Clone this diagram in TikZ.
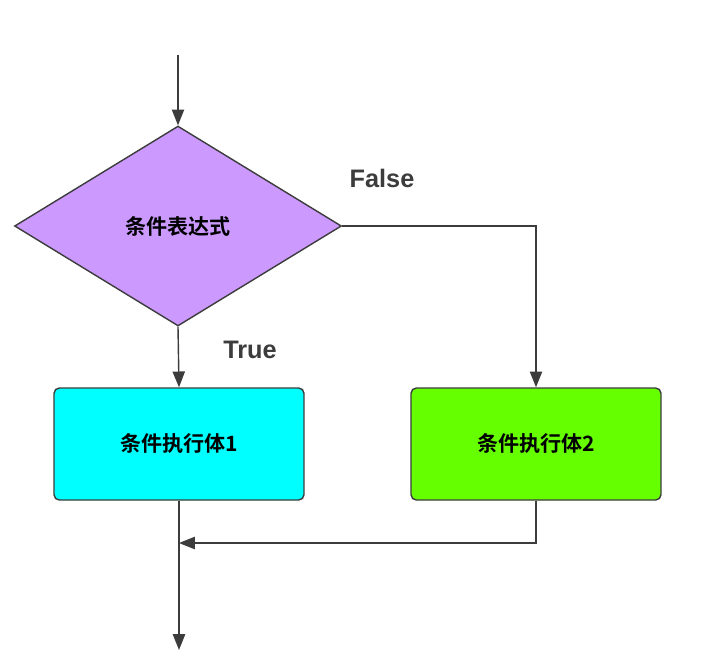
\documentclass[tikz,border=0pt]{standalone}
\usepackage{fontspec}
\setmainfont{Liberation Sans}
\newfontfamily\cjk{Noto Sans CJK SC}[BoldFont={Noto Sans CJK SC Bold}]
\usetikzlibrary{shapes.geometric, arrows.meta, positioning}
\definecolor{linegray}{RGB}{60,60,60}
\definecolor{condfill}{RGB}{204,153,255}
\definecolor{bodyone}{RGB}{0,255,255}
\definecolor{bodytwo}{RGB}{102,255,0}
\tikzset{
  cond/.style={diamond, draw=linegray, thick, fill=condfill, inner sep=0pt,
               minimum width=6.54cm, minimum height=4cm, font=\cjk\bfseries\large},
  body/.style={rectangle, rounded corners=3pt, draw=linegray, thick,
               minimum width=5cm, minimum height=2.24cm, font=\cjk\bfseries\large},
  flow/.style={-{Triangle[length=9pt,width=7pt]}, thick, color=linegray},
  tag/.style={font=\bfseries\Large, text=linegray},
}
\begin{document}
\begin{tikzpicture}[x=0.02cm,y=-0.02cm]
  \useasboundingbox (0,0) rectangle (702,664);
  % nodes
  \node[cond] (test) at (178,226) {条件表达式};
  \node[body, fill=bodyone] (yes) at (179,444) {条件执行体1};
  \node[body, fill=bodytwo] (no) at (536,444) {条件执行体2};
  \coordinate (start) at (178,55);
  \coordinate (turn) at (536,226);
  \coordinate (back) at (536,543);
  \coordinate (join) at (179,543);
  \coordinate (stop) at (179,650);
  % connectors
  \draw[flow] (start) -- (test.north);
  \draw[flow] (test.south) -- (yes.north);
  \draw[flow] (test.east) -- (turn) -- (no.north);
  \draw[flow] (no.south) -- (back) -- (join);
  \draw[flow] (yes.south) -- (stop);
  % labels
  \node[tag] (lf) at (382,178) {False};
  \node[tag] (lt) at (250,350) {True};
\end{tikzpicture}
\end{document}
